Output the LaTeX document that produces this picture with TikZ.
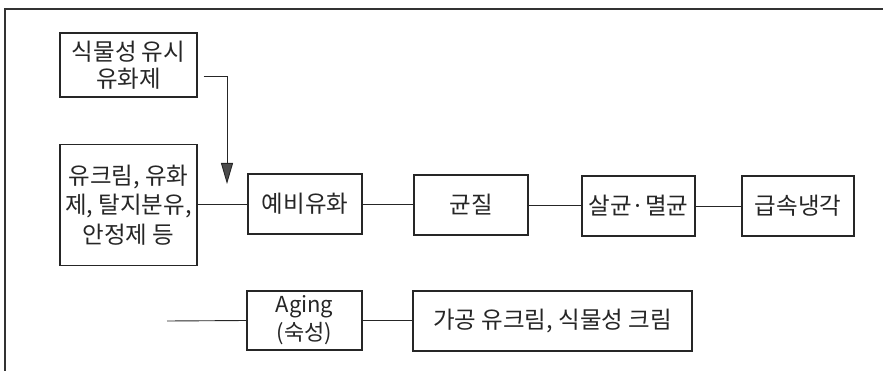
\documentclass[tikz,border=0pt]{standalone}
\usepackage{fontspec}
\setmainfont{Noto Sans CJK KR}
\usetikzlibrary{arrows.meta}
\begin{document}
\begin{tikzpicture}[x=1pt,y=-1pt,
  boxstyle/.style={draw=black!85, line width=1.1pt, inner sep=0pt, align=center,
     text=black!85, font=\fontsize{23.5}{27.5}\selectfont},
  link/.style={draw=black!85, line width=0.9pt},
  framestyle/.style={draw=black!80, line width=1.6pt}]
\useasboundingbox (0,0) rectangle (883,371);
\draw[framestyle] (5,371) -- (5,9) -- (883,9);
\node[boxstyle, minimum width=137pt, minimum height=64pt] (A) at (128.5,65) {식물성 유시\\유화제};
\node[boxstyle, minimum width=137pt, minimum height=121pt, font=\fontsize{23.5}{29.5}\selectfont] (B) at (128.5,205) {유크림, 유화\\제, 탈지분유,\\안정제 등};
\node[boxstyle, minimum width=114pt, minimum height=60pt] (C) at (305,204) {예비유화};
\node[boxstyle, minimum width=114pt, minimum height=60pt] (D) at (471,205) {균질};
\node[boxstyle, minimum width=113pt, minimum height=60pt] (E) at (638.5,206) {살균·멸균};
\node[boxstyle, minimum width=112pt, minimum height=60pt] (F) at (798,206) {급속냉각};
\node[boxstyle, minimum width=115pt, minimum height=59pt, font=\fontsize{22}{28}\selectfont] (G) at (304.5,320.5) {Aging\\(숙성)};
\node[boxstyle, minimum width=279pt, minimum height=60pt] (H) at (552.5,321) {가공 유크림, 식물성 크림};
\coordinate (tip) at (227,184);
\coordinate (start) at (167,321);
\draw[link, -{Triangle[length=21pt,width=12pt,fill=black!70]}] ([xshift=6pt,yshift=-11pt]A.east) -| (tip);
\draw[link] (B.east |- C.west) -- (C.west);
\draw[link] (C.east) -- (C.east -| D.west);
\draw[link] (D.east) -- (D.east -| E.west);
\draw[link] (E.east) -- (E.east -| F.west);
\draw[link] (start) -- (G.west);
\draw[link] (G.east) -- (G.east -| H.west);
\end{tikzpicture}
\end{document}
